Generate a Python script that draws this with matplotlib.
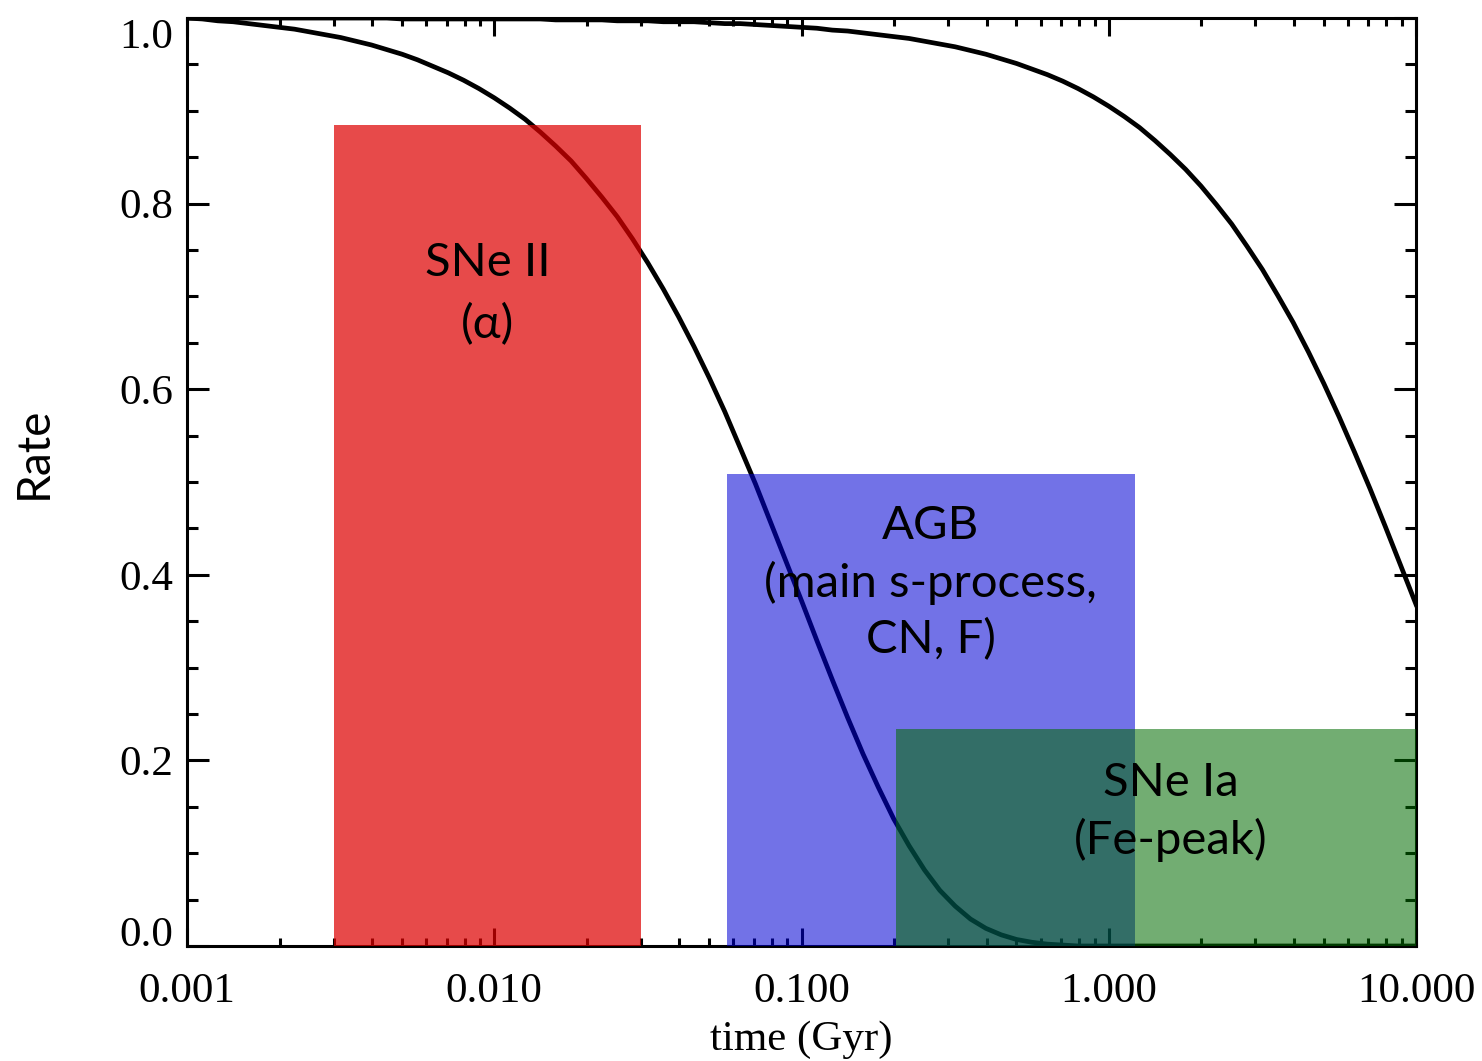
import matplotlib
matplotlib.use("Agg")
import matplotlib.pyplot as plt
from matplotlib.ticker import FixedLocator, MultipleLocator, LogLocator, NullFormatter

# time grid (Gyr), 20 points per decade
time = [0.001, 0.001122, 0.001259, 0.001413, 0.001585, 0.001778, 0.001995, 0.002239, 0.002512, 0.002818,
        0.003162, 0.003548, 0.003981, 0.004467, 0.005012, 0.005623, 0.00631, 0.007079, 0.007943, 0.008913,
        0.01, 0.01122, 0.01259, 0.01413, 0.01585, 0.01778, 0.01995, 0.02239, 0.02512, 0.02818,
        0.03162, 0.03548, 0.03981, 0.04467, 0.05012, 0.05623, 0.0631, 0.07079, 0.07943, 0.08913,
        0.1, 0.1122, 0.1259, 0.1413, 0.1585, 0.1778, 0.1995, 0.2239, 0.2512, 0.2818,
        0.3162, 0.3548, 0.3981, 0.4467, 0.5012, 0.5623, 0.631, 0.7079, 0.7943, 0.8913,
        1.0, 1.122, 1.259, 1.413, 1.585, 1.778, 1.995, 2.239, 2.512, 2.818,
        3.162, 3.548, 3.981, 4.467, 5.012, 5.623, 6.31, 7.079, 7.943, 8.913,
        10.0]

rate_short = [1.000, 0.999, 0.997, 0.996, 0.994, 0.992, 0.990, 0.988, 0.985, 0.982,
              0.979, 0.975, 0.971, 0.966, 0.961, 0.955, 0.948, 0.941, 0.933, 0.924,
              0.914, 0.903, 0.891, 0.877, 0.862, 0.846, 0.827, 0.807, 0.786, 0.762,
              0.736, 0.708, 0.678, 0.646, 0.612, 0.576, 0.537, 0.498, 0.456, 0.414,
              0.372, 0.329, 0.287, 0.246, 0.207, 0.171, 0.137, 0.108, 0.082, 0.060,
              0.043, 0.029, 0.019, 0.012, 0.007, 0.004, 0.002, 0.001, 0.000, 0.000,
              0.0, 0.0, 0.0, 0.0, 0.0, 0.0, 0.0, 0.0, 0.0, 0.0,
              0.0, 0.0, 0.0, 0.0, 0.0, 0.0, 0.0, 0.0, 0.0, 0.0,
              0.0]

rate_long = [1.000, 1.000, 1.000, 1.000, 1.000, 1.000, 1.000, 1.000, 1.000, 1.000,
             1.000, 1.000, 1.000, 1.000, 0.999, 0.999, 0.999, 0.999, 0.999, 0.999,
             0.999, 0.999, 0.999, 0.999, 0.998, 0.998, 0.998, 0.998, 0.997, 0.997,
             0.997, 0.996, 0.996, 0.996, 0.995, 0.994, 0.994, 0.993, 0.992, 0.991,
             0.990, 0.989, 0.987, 0.986, 0.984, 0.982, 0.980, 0.978, 0.975, 0.972,
             0.969, 0.965, 0.961, 0.956, 0.951, 0.945, 0.939, 0.932, 0.924, 0.915,
             0.905, 0.894, 0.882, 0.868, 0.853, 0.837, 0.819, 0.799, 0.778, 0.754,
             0.729, 0.701, 0.672, 0.640, 0.606, 0.570, 0.532, 0.493, 0.452, 0.410,
             0.368]

# enrichment channels: time span and height
channels = ["SNe II\n(α)", "AGB\n(main s-process,\nCN, F)", "SNe Ia\n(Fe-peak)"]
t_start = [0.003, 0.057, 0.203]
t_end = [0.030, 1.215, 10.0]
heights = [0.885, 0.509, 0.234]
colors = ["#de0000", "#0000d5", "#006c00"]
alphas = [0.71, 0.553, 0.553]
label_x = [0.0095, 0.263, 1.59]
label_y = [0.703, 0.391, 0.144]
spacing = [1.55, 1.38, 1.38]

serif = "Liberation Serif"
sans = ["Lato", "DejaVu Sans"]

fig = plt.figure(figsize=(14.82, 10.61), dpi=100)
ax = fig.add_axes([0.1262, 0.1084, 0.8293, 0.8746])

ax.plot(time, rate_short, color="black", lw=3.4, zorder=2)
ax.plot(time, rate_long, color="black", lw=3.4, zorder=2)

for i in range(len(channels)):
    ax.bar(t_start[i], heights[i], width=t_end[i] - t_start[i], align="edge",
           color=colors[i], alpha=alphas[i], linewidth=0, zorder=3)
    ax.text(label_x[i], label_y[i], channels[i], family=sans, fontsize=34,
            ha="center", va="center", linespacing=spacing[i], zorder=5)

ax.set_xscale("log")
ax.set_xlim(0.001, 10)
ax.set_ylim(0, 1)

ax.xaxis.set_major_locator(FixedLocator([0.001, 0.01, 0.1, 1, 10]))
ax.xaxis.set_minor_locator(LogLocator(base=10, subs=range(2, 10), numticks=20))
ax.xaxis.set_minor_formatter(NullFormatter())
ax.set_xticklabels(["0.001", "0.010", "0.100", "1.000", "10.000"])
ax.yaxis.set_minor_locator(MultipleLocator(0.05))
ax.set_yticks([0, 0.2, 0.4, 0.6, 0.8, 1.0])
ax.set_yticklabels(["0.0", "0.2", "0.4", "0.6", "0.8", "1.0"])

ax.tick_params(axis="both", which="both", direction="in", top=True, right=True,
               width=2.2, labelsize=31)
ax.tick_params(axis="x", which="major", length=13, pad=19)
ax.tick_params(axis="x", which="minor", length=6)
ax.tick_params(axis="y", which="major", length=16, pad=10)
ax.tick_params(axis="y", which="minor", length=8)
for lab in ax.get_xticklabels() + ax.get_yticklabels():
    lab.set_family(serif)
ylabs = ax.get_yticklabels()
ylabs[0].set_va("baseline")
ylabs[-1].set_va("top")

for s in ax.spines.values():
    s.set_linewidth(2.2)

ax.set_xlabel("time (Gyr)", family=serif, fontsize=31, labelpad=7)
ax.set_ylabel("Rate", family=sans, fontsize=33)
ax.yaxis.set_label_coords(-0.108, 0.532)

fig.savefig("out.png", dpi=100)
